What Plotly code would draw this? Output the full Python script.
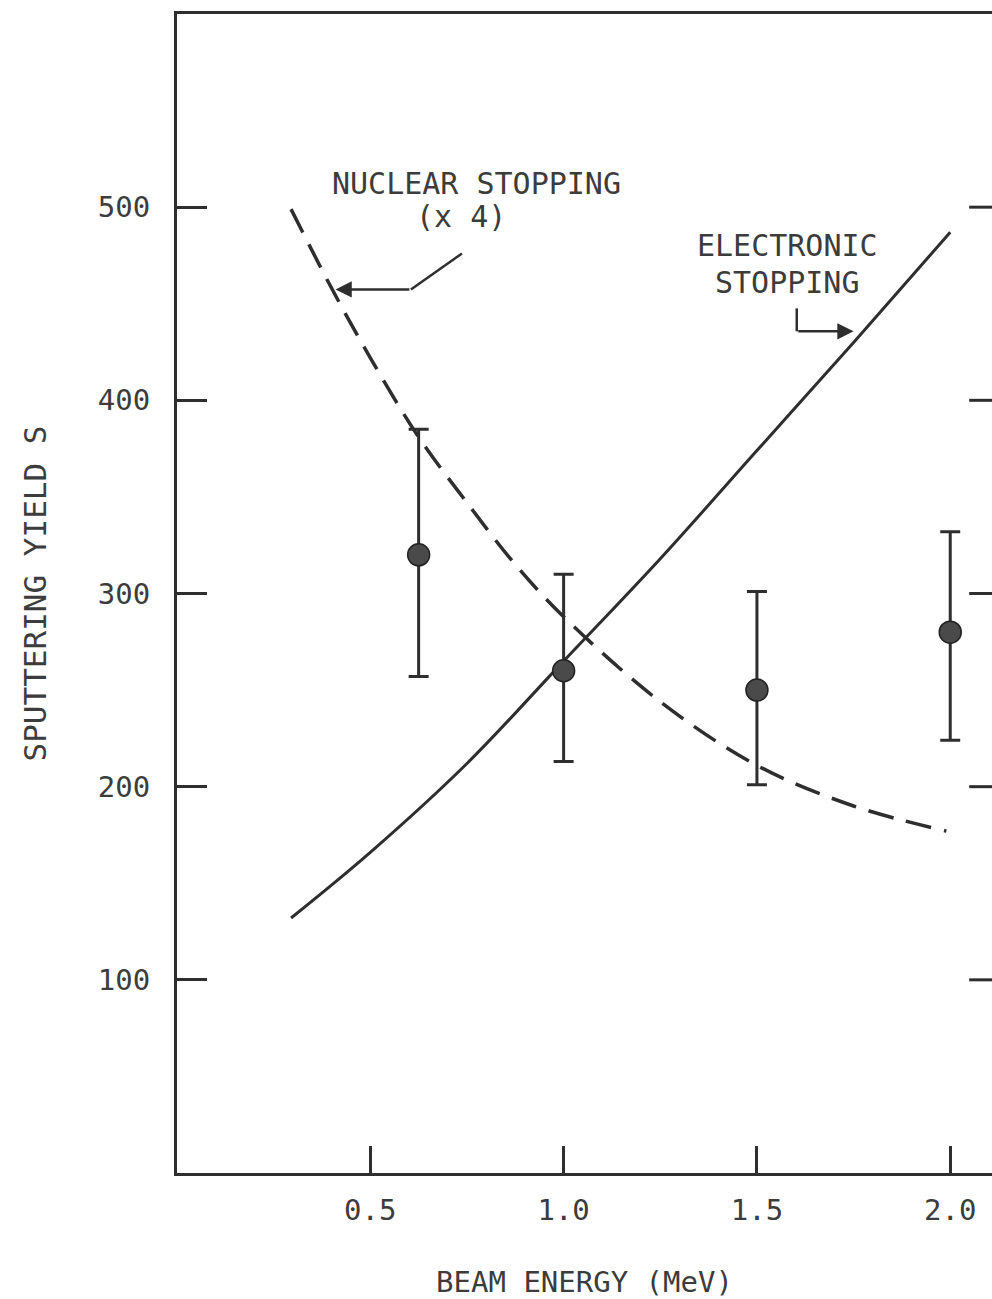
import plotly.graph_objects as go

# Measured sputtering yield vs beam energy
energy_mev = [0.625, 1.0, 1.5, 2.0]
yield_s = [320, 260, 250, 280]
yield_err_plus = [65, 50, 51, 52]
yield_err_minus = [63, 47, 49, 56]

# Electronic stopping curve (scaled)
elec_energy = [0.295, 0.5, 0.75, 1.0, 1.25, 1.5, 1.75, 2.0]
elec_yield = [132, 166, 212, 265, 318, 374, 430, 487]

# Nuclear stopping curve (x4)
nuc_energy = [0.295, 0.4, 0.5, 0.625, 0.75, 0.875, 1.0, 1.25, 1.5, 1.75, 1.99]
nuc_yield = [499, 458, 422, 381, 347, 315, 288, 244, 211, 190, 177]

x_tick_vals = [0.5, 1.0, 1.5, 2.0]
x_tick_text = ["0.5", "1.0", "1.5", "2.0"]
y_tick_vals = [100, 200, 300, 400, 500]
y_tick_text = ["100", "200", "300", "400", "500"]

INK = "#2e2e2e"
TEXT = "#3c3c3c"
FONT = "DejaVu Sans Mono"

fig = go.Figure()

fig.add_trace(go.Scatter(
    x=elec_energy, y=elec_yield, mode="lines",
    line=dict(color=INK, width=3, shape="spline", smoothing=1.0),
    hoverinfo="skip", showlegend=False,
))

fig.add_trace(go.Scatter(
    x=nuc_energy, y=nuc_yield, mode="lines",
    line=dict(color=INK, width=3.5, shape="spline", smoothing=1.0, dash="26px,13px"),
    hoverinfo="skip", showlegend=False,
))

fig.add_trace(go.Scatter(
    x=energy_mev, y=yield_s, mode="markers",
    marker=dict(size=22, color="#4a4a4a", line=dict(color="#222222", width=1.5)),
    error_y=dict(type="data", symmetric=False, array=yield_err_plus,
                 arrayminus=yield_err_minus, color=INK, thickness=3, width=10),
    showlegend=False,
))

# Right-hand inner tick marks
for v in y_tick_vals:
    fig.add_shape(type="line", xref="paper", yref="y", x0=0.972, x1=1.0, y0=v, y1=v,
                  line=dict(color=INK, width=3))

# Label leader lines
fig.add_shape(type="line", x0=0.737, y0=476, x1=0.605, y1=457.4,
              line=dict(color=INK, width=2.5))
fig.add_annotation(x=0.41, y=457.4, ax=0.605, ay=457.4, axref="x", ayref="y",
                   xref="x", yref="y", text="", showarrow=True, arrowhead=2,
                   arrowsize=1.3, arrowwidth=2.5, arrowcolor=INK)
fig.add_shape(type="line", x0=1.603, y0=447.6, x1=1.603, y1=435.7,
              line=dict(color=INK, width=2.5))
fig.add_annotation(x=1.75, y=435.7, ax=1.603, ay=435.7, axref="x", ayref="y",
                   xref="x", yref="y", text="", showarrow=True, arrowhead=2,
                   arrowsize=1.3, arrowwidth=2.5, arrowcolor=INK)

label_font = dict(family=FONT, size=30, color=TEXT)
fig.add_annotation(x=0.775, y=512, xref="x", yref="y", text="NUCLEAR STOPPING",
                   showarrow=False, font=label_font)
fig.add_annotation(x=0.735, y=495, xref="x", yref="y", text="(x 4)",
                   showarrow=False, font=label_font)
fig.add_annotation(x=1.58, y=480, xref="x", yref="y", text="ELECTRONIC",
                   showarrow=False, font=label_font)
fig.add_annotation(x=1.58, y=461, xref="x", yref="y", text="STOPPING",
                   showarrow=False, font=label_font)

fig.update_layout(
    width=992, height=1299,
    margin=dict(l=177, r=0, t=14, b=124),
    paper_bgcolor="white", plot_bgcolor="white",
    font=dict(family=FONT, size=29, color=TEXT),
    xaxis=dict(
        range=[0, 2.108], showgrid=False, zeroline=False,
        showline=True, linecolor=INK, linewidth=3, mirror=True,
        ticks="inside", ticklen=27, tickwidth=3, tickcolor=INK,
        tickvals=x_tick_vals, ticktext=x_tick_text, ticklabelstandoff=9,
        title=dict(text="BEAM ENERGY (MeV)", standoff=52,
                   font=dict(family=FONT, size=29, color=TEXT)),
    ),
    yaxis=dict(
        range=[0, 600], showgrid=False, zeroline=False,
        showline=True, linecolor=INK, linewidth=3, mirror=False,
        ticks="inside", ticklen=30, tickwidth=3, tickcolor=INK,
        tickvals=y_tick_vals, ticktext=y_tick_text, ticklabelstandoff=18,
        title=dict(text="SPUTTERING YIELD S", standoff=42,
                   font=dict(family=FONT, size=31, color=TEXT)),
    ),
)

fig.write_html("out.html")
